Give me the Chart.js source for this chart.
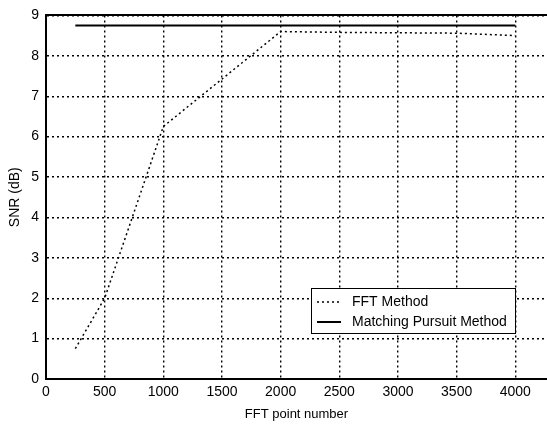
<!DOCTYPE html>
<html>
<head>
<meta charset="utf-8">
<script src="https://cdn.jsdelivr.net/npm/chart.js@4/dist/chart.umd.min.js"></script>
<style>
  html, body { margin: 0; padding: 0; background: #fff; }
  #wrap { width: 547px; height: 425px; position: relative; }
</style>
</head>
<body>
<div id="wrap"><canvas id="c"></canvas></div>
<script>
// ---- data ----
const fftPoints = [250, 500, 1000, 2000, 2500, 3000, 3500, 4000];
const fftMethodSNR = [0.75, 2.0, 6.25, 8.6, 8.58, 8.57, 8.56, 8.5];
const matchingPursuitSNR = [8.75, 8.75, 8.75, 8.75, 8.75, 8.75, 8.75, 8.75];
const seriesLabels = ['FFT Method', 'Matching Pursuit Method'];
const xTickValues = [0, 500, 1000, 1500, 2000, 2500, 3000, 3500, 4000];
const yTickValues = [0, 1, 2, 3, 4, 5, 6, 7, 8, 9];
const xTitle = 'FFT point number';
const yTitle = 'SNR (dB)';

const FONT = "'Liberation Sans', Arial, sans-serif";

const toXY = (xs, ys) => xs.map((x, i) => ({ x: x, y: ys[i] }));

const insideLegend = {
  id: 'insideLegend',
  afterDraw(chart) {
    const ctx = chart.ctx;
    const ca = chart.chartArea;
    const w = 204, h = 45;
    const bx = ca.right - 32 - w;
    const by = ca.bottom - 46 - h;
    ctx.save();
    ctx.fillStyle = '#fff';
    ctx.fillRect(bx, by, w, h);
    ctx.strokeStyle = '#000';
    ctx.lineWidth = 1;
    ctx.strokeRect(bx + 0.5, by + 0.5, w, h);
    chart.data.datasets.forEach((ds, i) => {
      const ry = by + 14 + i * 20;
      ctx.beginPath();
      ctx.setLineDash(ds.borderDash || []);
      ctx.lineWidth = ds.borderWidth;
      ctx.strokeStyle = ds.borderColor;
      ctx.moveTo(bx + 6, ry);
      ctx.lineTo(bx + 30, ry);
      ctx.stroke();
      ctx.setLineDash([]);
      ctx.fillStyle = '#000';
      ctx.font = '14px ' + FONT;
      ctx.textBaseline = 'middle';
      ctx.textAlign = 'left';
      ctx.fillText(ds.label, bx + 41, ry);
    });
    ctx.restore();
  }
};

new Chart(document.getElementById('c'), {
  type: 'line',
  data: {
    datasets: [
      {
        label: seriesLabels[0],
        data: toXY(fftPoints, fftMethodSNR),
        borderColor: '#000',
        borderWidth: 1.5,
        borderDash: [2, 3],
        pointRadius: 0,
        fill: false,
        tension: 0
      },
      {
        label: seriesLabels[1],
        data: toXY(fftPoints, matchingPursuitSNR),
        borderColor: '#000',
        borderWidth: 2,
        pointRadius: 0,
        fill: false,
        tension: 0
      }
    ]
  },
  options: {
    responsive: true,
    maintainAspectRatio: false,
    animation: false,
    layout: { padding: { top: 13, right: 0, bottom: 0, left: 0 } },
    plugins: {
      legend: { display: false },
      tooltip: { enabled: false }
    },
    scales: {
      x: {
        type: 'linear',
        position: 'bottom',
        min: 0,
        max: 4270,
        afterBuildTicks: (axis) => { axis.ticks = xTickValues.map(v => ({ value: v })); },
        afterFit: (axis) => { axis.height = 46; },
        grid: { color: '#000', lineWidth: 1.4, drawTicks: false },
        border: { display: true, color: '#000', width: 2, dash: [2, 3] },
        ticks: {
          color: '#000',
          font: { family: FONT, size: 14 },
          padding: 5,
          maxRotation: 0,
          autoSkip: false,
          callback: (v) => String(v)
        },
        title: {
          display: true,
          text: xTitle,
          color: '#000',
          font: { family: FONT, size: 13 },
          padding: { top: 0, bottom: 3 }
        }
      },
      xTop: {
        type: 'linear',
        position: 'top',
        min: 0,
        max: 1,
        afterFit: (axis) => { axis.height = 0; },
        grid: { display: false, drawTicks: false },
        border: { display: true, color: '#000', width: 2 },
        ticks: { display: false }
      },
      y: {
        type: 'linear',
        position: 'left',
        min: 0,
        max: 9,
        afterBuildTicks: (axis) => { axis.ticks = yTickValues.map(v => ({ value: v })); },
        afterFit: (axis) => { axis.width = 46; },
        grid: { color: '#000', lineWidth: 1.4, drawTicks: false },
        border: { display: true, color: '#000', width: 2, dash: [2, 3] },
        ticks: {
          color: '#000',
          font: { family: FONT, size: 14 },
          padding: 7,
          autoSkip: false,
          callback: (v) => String(v)
        },
        title: {
          display: true,
          text: yTitle,
          color: '#000',
          font: { family: FONT, size: 14 },
          padding: { top: 7, bottom: 0 }
        }
      }
    }
  },
  plugins: [insideLegend]
});
</script>
</body>
</html>
